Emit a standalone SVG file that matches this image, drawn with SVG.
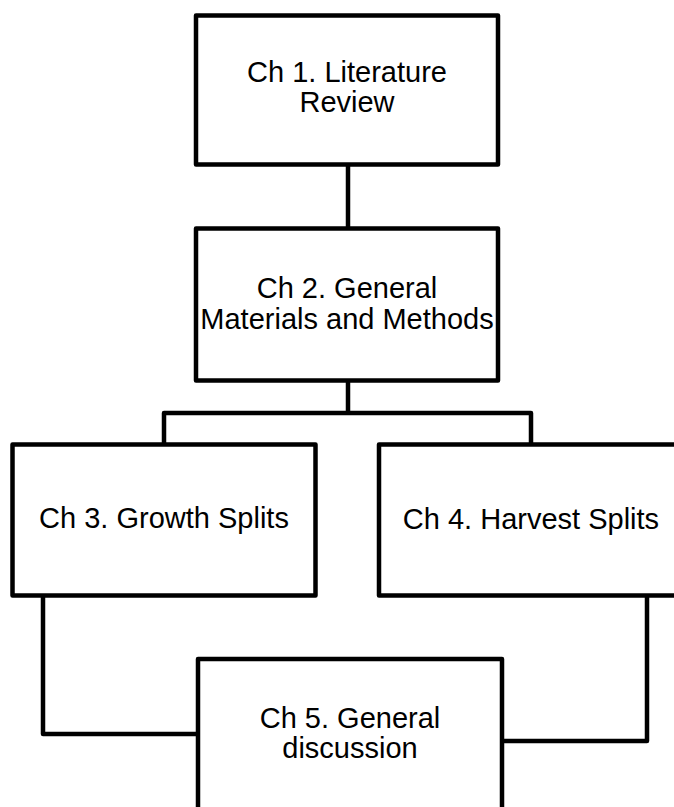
<svg xmlns="http://www.w3.org/2000/svg" width="674" height="807" viewBox="0 0 674 807">
<style>
.box{fill:#fff;stroke:#000;stroke-width:4.5;stroke-linejoin:round}
.conn{fill:none;stroke:#000;stroke-width:4.5;stroke-linejoin:round}
.lbl{font-family:"Liberation Sans",Arial,sans-serif;font-size:29px;fill:#000;text-anchor:middle}
</style>
<rect width="674" height="807" fill="#fff"/>
<g id="connectors">
<path class="conn" d="M348,164 V228"/>
<path class="conn" d="M348,380 V413 M164,444 V413 H531 V444"/>
<path class="conn" d="M43,595 V734 H198"/>
<path class="conn" d="M647,595 V741 H502"/>
</g>
<g id="ch1">
<rect class="box" x="196" y="15.5" width="302" height="149"/>
<text class="lbl" x="347" y="82">Ch 1. Literature</text>
<text class="lbl" x="347" y="112">Review</text>
</g>
<g id="ch2">
<rect class="box" x="196" y="228.5" width="302" height="152"/>
<text class="lbl" x="347" y="298">Ch 2. General</text>
<text class="lbl" x="347" y="329">Materials and Methods</text>
</g>
<g id="ch3">
<rect class="box" x="12.5" y="444.5" width="303" height="151"/>
<text class="lbl" x="164" y="528">Ch 3. Growth Splits</text>
</g>
<g id="ch4">
<rect class="box" x="379" y="444.5" width="304" height="151"/>
<text class="lbl" x="531" y="529">Ch 4. Harvest Splits</text>
</g>
<g id="ch5">
<rect class="box" x="198" y="659" width="304" height="170"/>
<text class="lbl" x="350" y="728">Ch 5. General</text>
<text class="lbl" x="350" y="758">discussion</text>
</g>
</svg>
